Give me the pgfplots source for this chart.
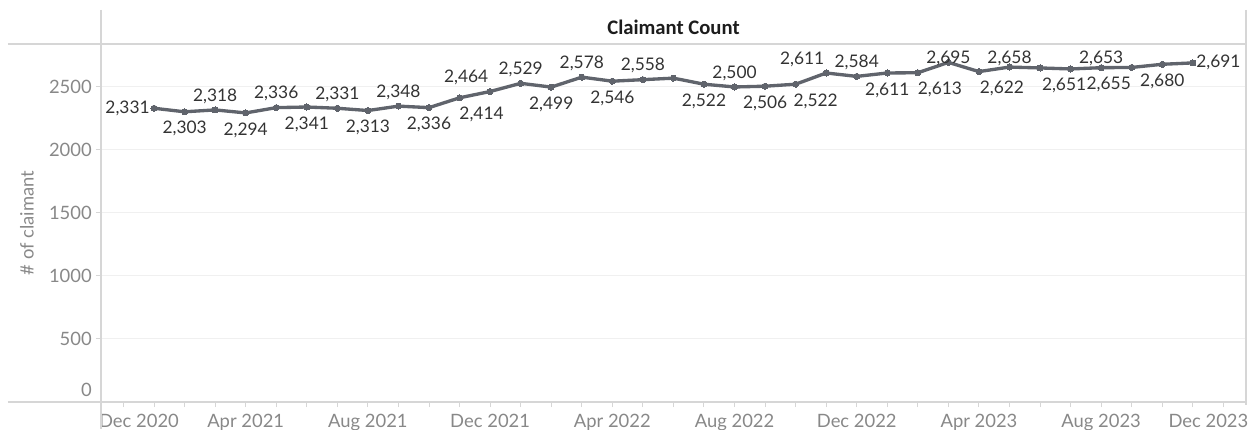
\documentclass[border=0pt]{standalone}
\usepackage{fontspec}
\setmainfont{Lato}
\newfontfamily\titlefont{Carlito}
\usepackage{pgfplots}
\pgfplotsset{compat=1.18}
\usepackage{pgfplotstable}

\definecolor{linec}{RGB}{96,100,108}
\definecolor{lblc}{RGB}{51,51,51}
\definecolor{tickc}{RGB}{136,136,136}
\definecolor{gridc}{RGB}{240,240,240}
\definecolor{axisc}{RGB}{214,214,214}
\definecolor{titlec}{RGB}{28,28,28}

% x: months after Dec 2020 (1 = Jan 2021), y: claimants, show: label shown, dx/dy: label offset in px
\pgfplotstableread{
x  y    show dx    dy
1  2331 1    -26.5 0
2  2303 1    0     -17
3  2318 1    0     14
4  2294 1    0     -17
5  2336 1    0     14
6  2341 1    0     -17
7  2331 1    0     14
8  2313 1    0     -17
9  2348 1    0     14
10 2336 1    0     -17
11 2414 1    22    -17
12 2464 1    -24   14
13 2529 1    0     14
14 2499 1    0     -17
15 2578 1    0     14
16 2546 1    0     -17
17 2558 1    0     14
18 2570 0    0     0
19 2522 1    0     -17
20 2500 1    0     14
21 2506 1    0     -17
22 2522 1    20    -17
23 2611 1    -24   14
24 2584 1    0     14
25 2611 1    0     -17
26 2613 1    22    -17
27 2695 1    0     4
28 2622 1    23    -17
29 2658 1    0     9
30 2651 1    24    -17
31 2643 0    0     0
32 2653 1    0     9
33 2655 1    -23   -17
34 2680 1    0     -17
35 2691 1    25.5  1
}\claims

\begin{document}
\begin{tikzpicture}
\useasboundingbox (-75.75pt,-20.25pt) rectangle (861.75pt,301.5pt);
\begin{axis}[
  at={(0pt,0pt)}, anchor=south west,
  scale only axis, width=858.75pt, height=268.5pt,
  xmin=-0.736, xmax=36.74, ymin=0, ymax=2841,
  clip=false,
  axis x line*=bottom, axis y line*=left,
  axis line style={draw=none},
  tick align=outside,
  major tick length=3.75pt, minor tick length=3.75pt,
  tick style={axisc, line width=0.75pt},
  xtick={0,4,...,36},
  minor xtick={0,1,...,36},
  xticklabels={\hspace*{23.25pt}Dec 2020, Apr 2021, Aug 2021, Dec 2021, Apr 2022, Aug 2022, Dec 2022, Apr 2023, Aug 2023, Dec 2023\hspace*{22.5pt}},
  ytick={500,1000,...,2500},
  extra y ticks={0},
  extra y tick style={tick label style={yshift=9pt}},
  ymajorgrids,
  grid style={gridc, line width=0.75pt},
  /pgf/number format/assume math mode=true,
  /pgf/number format/1000 sep={},
  tick label style={font=\fontsize{13.8}{15}\selectfont, text=tickc},
  xticklabel style={anchor=north, inner sep=0pt, yshift=-5pt},
  yticklabel style={anchor=east, inner sep=0pt, xshift=-3pt},
  ylabel={\# of claimant},
  ylabel style={at={(axis description cs:-0.0646,0.5)}, anchor=center, font=\fontsize{13.8}{15}\selectfont, text=tickc},
  every axis title shift=0pt,
  title={Claimant Count},
  title style={at={(axis description cs:0.5,1.0475)}, anchor=center, font=\titlefont\bfseries\fontsize{15.5}{18}\selectfont, text=titlec},
]
\addplot[
  color=linec, line width=2.5pt,
  mark=*, mark size=2.3pt, mark options={fill=linec, draw=linec, line width=0pt},
  point meta=y,
  visualization depends on={\thisrow{show} \as \lshow},
  visualization depends on={\thisrow{dx} \as \ldx},
  visualization depends on={\thisrow{dy} \as \ldy},
  nodes near coords={\pgfmathprintnumber[fixed,precision=0,1000 sep={,}]{\pgfplotspointmeta}},
  every node near coord/.append style={anchor=center, inner sep=0pt, opacity=\lshow, xshift=\ldx*0.75pt, yshift=\ldy*0.75pt, font=\fontsize{13}{15}\selectfont, text=lblc},
] table[x=x, y=y] {\claims};
\end{axis}
% frame lines of the view
\draw[axisc, line width=1.1pt] (-69.75pt,268.5pt) -- (858.75pt,268.5pt);
\draw[axisc, line width=1.1pt] (-69.75pt,0pt) -- (858.75pt,0pt);
\draw[axisc, line width=1.1pt] (0pt,294pt) -- (0pt,-20.25pt);
\draw[axisc, line width=1.1pt] (858.75pt,294pt) -- (858.75pt,-2.25pt);
\end{tikzpicture}
\end{document}
